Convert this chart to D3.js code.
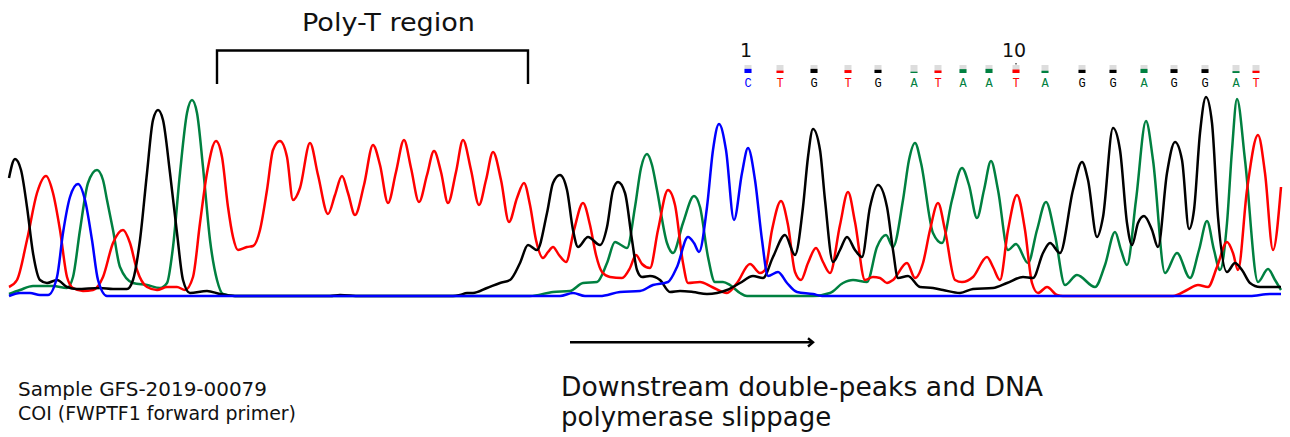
<!DOCTYPE html>
<html><head><meta charset="utf-8">
<script src="https://cdn.jsdelivr.net/npm/d3@7/dist/d3.min.js"></script>
<style>html,body{margin:0;padding:0;background:#fff;}svg{display:block;}</style>
</head><body>
<svg id="chart" width="1290" height="437"></svg>
<script>
// ---- data (scan position, signal) ----
const traceG = [[1,1180],[7,1370],[13,1260],[19,890],[25,430],[32,160],[39,130],[49,160],[59,90],[69,70],[92,80],[105,70],[119,70],[125,160],[132,560],[139,1230],[145,1760],[150,1860],[155,1760],[162,1230],[169,630],[175,160],[182,30],[199,50],[212,20],[227,0],[322,0],[332,10],[352,0],[445,0],[452,10],[459,30],[465,30],[479,80],[492,130],[502,160],[512,330],[520,510],[529,460],[539,830],[545,1130],[552,1210],[559,1060],[565,660],[570,490],[580,590],[592,510],[599,690],[605,1060],[610,1140],[617,1030],[624,560],[629,260],[634,190],[642,200],[652,160],[662,40],[672,50],[685,40],[699,20],[719,60],[732,130],[745,200],[755,180],[765,390],[777,610],[787,410],[795,890],[800,1390],[805,1670],[812,1460],[817,960],[825,340],[832,460],[839,590],[847,460],[854,390],[862,890],[870,1110],[879,890],[885,460],[890,180],[900,200],[912,90],[925,80],[935,60],[952,30],[965,70],[985,80],[999,130],[1015,190],[1025,180],[1035,430],[1042,530],[1052,430],[1065,1060],[1074,1340],[1080,1160],[1089,590],[1095,790],[1105,1680],[1112,1460],[1119,730],[1124,510],[1130,730],[1136,800],[1144,660],[1150,490],[1159,1230],[1167,1540],[1174,1360],[1181,670],[1186,860],[1192,1630],[1198,1990],[1204,1730],[1210,790],[1219,240],[1227,330],[1234,260],[1242,130],[1252,90],[1273,90]];
const traceT = [[1,90],[9,160],[19,560],[29,1030],[38,1200],[45,1030],[52,660],[59,190],[65,80],[75,50],[85,60],[95,190],[105,530],[115,660],[122,530],[129,260],[139,90],[149,60],[159,90],[169,90],[177,60],[185,190],[192,730],[199,1230],[208,1550],[214,1390],[220,890],[225,590],[230,460],[239,490],[245,500],[252,660],[259,1060],[265,1460],[272,1550],[279,1390],[285,960],[292,1080],[302,1530],[310,1210],[320,820],[327,1010],[334,1200],[340,1030],[347,810],[356,1110],[365,1510],[372,1310],[380,930],[388,1240],[396,1560],[403,1280],[411,940],[419,1210],[426,1450],[433,1240],[440,930],[448,1240],[455,1560],[463,1260],[471,910],[478,1160],[485,1440],[493,1160],[501,740],[509,980],[516,1130],[522,910],[528,560],[535,380],[540,440],[545,490],[551,410],[558,340],[566,660],[575,930],[582,710],[588,410],[594,240],[602,190],[614,180],[622,280],[628,410],[634,320],[642,280],[650,660],[660,1060],[667,910],[675,330],[680,130],[692,140],[704,90],[719,30],[729,130],[742,320],[752,230],[757,260],[764,660],[773,950],[780,710],[787,240],[793,160],[800,330],[808,480],[815,340],[822,230],[832,710],[840,1040],[847,740],[857,160],[865,190],[872,180],[879,130],[885,160],[899,330],[907,180],[915,330],[922,660],[930,930],[937,660],[947,160],[954,140],[965,190],[979,390],[985,290],[992,160],[1000,660],[1009,1010],[1017,660],[1024,130],[1030,30],[1039,90],[1049,10],[1055,0],[1165,0],[1179,60],[1190,110],[1200,90],[1209,290],[1219,540],[1225,430],[1230,260],[1239,1060],[1250,1610],[1257,1230],[1265,460],[1273,1090]];
const traceA = [[1,20],[12,60],[25,100],[45,100],[59,80],[65,190],[72,660],[80,1130],[89,1260],[95,1160],[99,960],[105,660],[112,290],[125,130],[139,110],[152,80],[159,130],[165,490],[172,1230],[179,1830],[184,1960],[189,1830],[195,1290],[202,560],[209,160],[215,20],[227,0],[522,0],[545,40],[562,50],[575,130],[589,140],[599,330],[607,540],[613,510],[619,480],[627,890],[633,1280],[639,1420],[644,1310],[649,1060],[659,530],[665,430],[675,730],[686,1000],[692,890],[700,390],[707,140],[715,140],[722,110],[732,30],[739,0],[805,0],[822,30],[835,130],[845,160],[859,140],[869,490],[878,610],[885,490],[895,960],[901,1360],[907,1530],[913,1330],[925,630],[934,530],[944,960],[954,1280],[961,1110],[969,780],[976,1060],[983,1350],[990,1060],[1000,460],[1008,520],[1020,330],[1029,660],[1038,940],[1047,610],[1057,110],[1069,210],[1087,90],[1097,310],[1107,640],[1113,460],[1119,310],[1128,960],[1138,1750],[1145,1360],[1157,230],[1169,430],[1182,180],[1191,460],[1199,750],[1206,460],[1212,260],[1219,730],[1224,1460],[1229,1970],[1237,1360],[1250,140],[1260,270],[1267,160],[1273,60]];
const traceC = [[1,0],[12,30],[22,30],[32,10],[40,10],[49,190],[55,630],[62,990],[70,1120],[77,960],[84,560],[90,160],[99,0],[552,0],[565,30],[577,0],[592,0],[612,40],[632,50],[645,110],[660,140],[669,290],[680,590],[686,530],[691,440],[699,890],[705,1460],[711,1720],[718,1460],[726,760],[734,1230],[740,1480],[747,1160],[754,560],[760,200],[770,240],[779,130],[789,40],[805,20],[814,0],[1242,0],[1262,20],[1273,20]];

const baseCalls = ["C","T","G","T","G","A","T","A","A","T","A","G","G","A","G","G","A","T"];
const basePositions = [740,772,806,840,870,906,930,955,981,1008,1037,1074,1105,1136,1166,1197,1228,1248];
const baseQuality = [31,18,31,22,24,10,19,29,31,26,17,24,24,31,29,29,14,17];
const tickIndex = [0, 9];
const tickLabels = ["1", "10"];

const annotations = {
  region: "Poly-T region",
  regionStart: 209, regionEnd: 520,
  arrowStart: 562, arrowEnd: 805,
  note1: "Downstream double-peaks and DNA",
  note2: "polymerase slippage",
  sample1: "Sample GFS-2019-00079",
  sample2: "COI (FWPTF1 forward primer)"
};

// ---- rendering ----
const colors = {A: "#008040", C: "#0000ff", G: "#000000", T: "#ff0000"};
const svg = d3.select("#chart");
const x = d3.scaleLinear().domain([0, 1273]).range([8, 1281]);
const y = d3.scaleLinear().domain([0, 2000]).range([296, 96]);
const q = d3.scaleLinear().domain([0, 60]).range([0, 8]);

const line = d3.line().x(d => x(d[0])).y(d => y(d[1])).curve(d3.curveMonotoneX);
const traces = [["A", traceA], ["T", traceT], ["G", traceG], ["C", traceC]];
svg.append("g").selectAll("path").data(traces).join("path")
  .attr("d", d => line(d[1]))
  .attr("fill", "none")
  .attr("stroke", d => colors[d[0]])
  .attr("stroke-width", 2.5)
  .attr("stroke-linejoin", "round");

// base call track
const bases = baseCalls.map((b, i) => ({b, pos: basePositions[i], qv: baseQuality[i], i}));
const bt = svg.append("g");
bt.selectAll("rect.bg").data(bases).join("rect")
  .attr("x", d => x(d.pos) - 3.5).attr("y", 65).attr("width", 7).attr("height", 8)
  .attr("fill", "#dddddd");
bt.selectAll("rect.qv").data(bases).join("rect")
  .attr("x", d => x(d.pos) - 3.5).attr("y", d => 73 - q(d.qv)).attr("width", 7).attr("height", d => q(d.qv))
  .attr("fill", d => colors[d.b]);
bt.selectAll("text").data(bases).join("text")
  .attr("x", d => x(d.pos)).attr("y", 87)
  .attr("text-anchor", "middle")
  .attr("font-family", "'Liberation Mono', monospace").attr("font-size", 12)
  .attr("fill", d => colors[d.b])
  .text(d => d.b);
svg.append("g").selectAll("text").data(tickIndex).join("text")
  .attr("x", (d) => x(basePositions[d]) - 2).attr("y", 57)
  .attr("text-anchor", "middle")
  .attr("font-family", "'DejaVu Sans', sans-serif").attr("font-size", 19)
  .attr("fill", "#111")
  .text((d, i) => tickLabels[i]);
svg.append("rect").attr("x", x(basePositions[9]) - 0.5).attr("y", 63).attr("width", 1).attr("height", 1.5).attr("fill", "#000");

// annotations
const fontF = "'DejaVu Sans', Verdana, sans-serif";
svg.append("text").attr("x", 302).attr("y", 31).attr("font-family", fontF).attr("font-size", 24)
  .attr("textLength", 173).attr("lengthAdjust", "spacingAndGlyphs").attr("fill", "#111").text(annotations.region);
svg.append("path")
  .attr("d", `M${x(annotations.regionStart)},84V50.5H${x(annotations.regionEnd)}V84`)
  .attr("fill", "none").attr("stroke", "#000").attr("stroke-width", 2.4);

const ax0 = x(annotations.arrowStart), ax1 = x(annotations.arrowEnd);
svg.append("path").attr("d", `M${ax0},342.3H${ax1 - 1}`).attr("stroke", "#000").attr("stroke-width", 2.6).attr("fill", "none");
svg.append("path").attr("d", `M${ax1 - 5},338.3L${ax1},342.3L${ax1 - 5},346.5`).attr("stroke", "#000").attr("stroke-width", 2.4).attr("fill", "none");

svg.append("text").attr("x", 561).attr("y", 396).attr("font-family", fontF).attr("font-size", 26)
  .attr("textLength", 482).attr("lengthAdjust", "spacingAndGlyphs").attr("fill", "#111").text(annotations.note1);
svg.append("text").attr("x", 561).attr("y", 426).attr("font-family", fontF).attr("font-size", 26)
  .attr("fill", "#111").text(annotations.note2);
svg.append("text").attr("x", 18).attr("y", 396).attr("font-family", fontF).attr("font-size", 20)
  .attr("textLength", 249).attr("lengthAdjust", "spacingAndGlyphs").attr("fill", "#111").text(annotations.sample1);
svg.append("text").attr("x", 18).attr("y", 420).attr("font-family", fontF).attr("font-size", 20)
  .attr("textLength", 278).attr("lengthAdjust", "spacingAndGlyphs").attr("fill", "#111").text(annotations.sample2);
</script>
</body></html>
